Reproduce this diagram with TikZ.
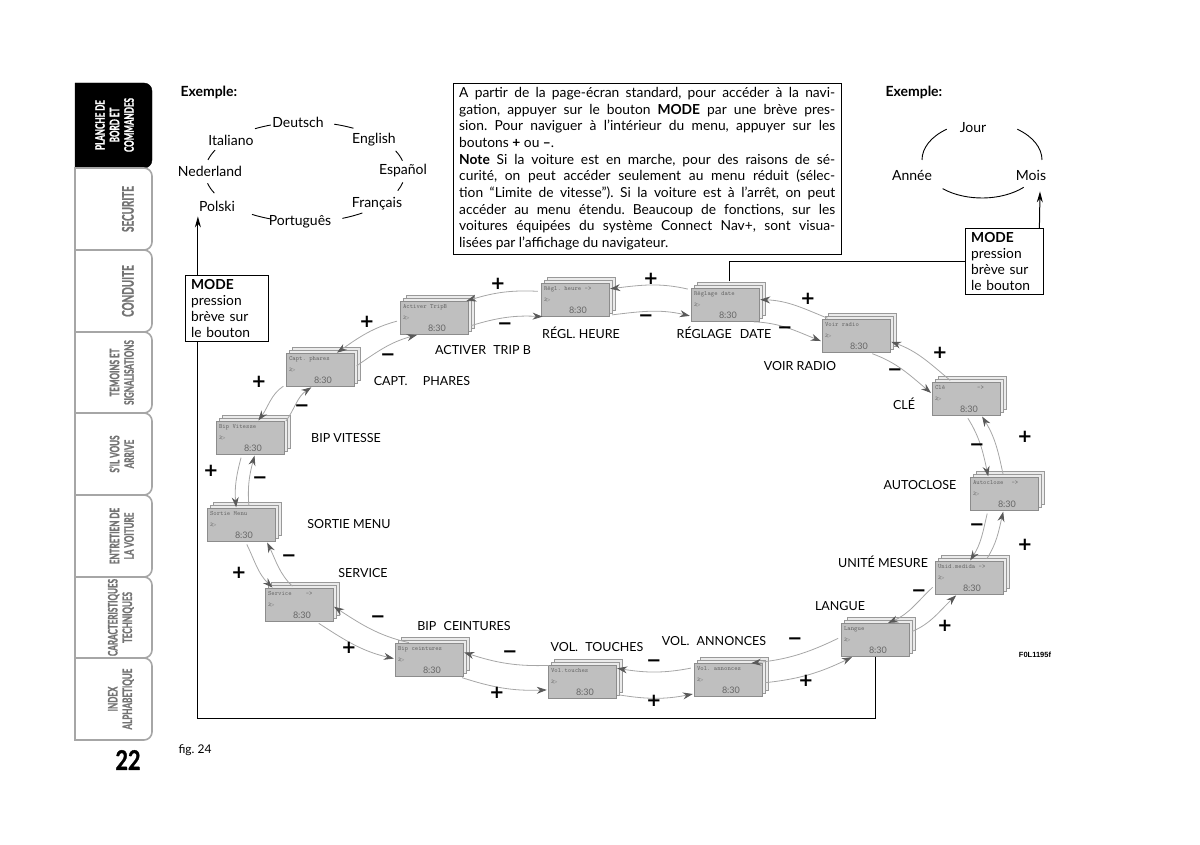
\documentclass[tikz,border=0pt]{standalone}
\usepackage{fontspec}
\setmainfont{Lato}
\newfontfamily\tabfont{Lato}[FakeStretch=0.62, FakeBold=1.2]
\newfontfamily\numfont{Lato}[FakeStretch=0.8, FakeBold=1.2]
\newfontfamily\signfont{DejaVu Sans}
\newfontfamily\symfont{DejaVu Sans}
\newfontfamily\codefont{Liberation Sans}
\usetikzlibrary{
	positioning,
	arrows.meta,
	shadows
}

% contents of one display
\newcommand{\lcd}[1]{{\ttfamily\fontsize{6.4}{7}\selectfont #1}\\[-1pt]{\symfont\fontsize{4.5}{5.5}\selectfont 2▷}\\{\hspace*{25pt}\fontsize{9}{10}\selectfont 8:30}}

\begin{document}
\frenchspacing
\begin{tikzpicture}[
	x=1pt, y=1pt,
	tabline/.style = {draw=black!35, line width=1.6pt},
	tabtext/.style = {
		rotate=90, anchor=south, align=center, inner sep=0pt,
		font=\tabfont\bfseries\fontsize{13}{14.5}\selectfont,
		text=black!55
	},
	screen/.style = {
		rectangle,
		draw=black!45,
		fill=black!25,
		text width=62pt, minimum height=32pt, inner sep=3pt,
		align=left, text=black!60,
		general shadow={shadow xshift=6pt, shadow yshift=6pt, fill=black!8, draw=black!40},
		general shadow={shadow xshift=3pt, shadow yshift=3pt, fill=black!8, draw=black!40}
	},
	link/.style = {
		draw=black!35, line width=0.8pt, shorten <=3pt, shorten >=1pt,
		-{Stealth[length=10pt, width=7pt, color=black!65]}
	},
	menu/.style = {font=\fontsize{12.5}{14}\selectfont, inner sep=1pt},
	sign/.style = {font=\signfont\bfseries\fontsize{18}{20}\selectfont, inner sep=0pt},
	lang/.style = {font=\fontsize{14}{16}\selectfont, inner sep=1pt},
	ring/.style = {line width=0.9pt},
	modebox/.style = {
		draw, fill=white, anchor=north west,
		align=left, inner xsep=6pt, inner ysep=4pt,
		font=\fontsize{13.8}{16}\selectfont
	},
	modeline/.style = {line width=1pt, -{Stealth[length=11pt, width=6pt]}},
]
	\useasboundingbox (0,0) rectangle (1200,-845);

	% chapter tabs
	\draw[fill=black] (75,-83) -- (75,-168) -- (144,-168) arc[start angle=-90, end angle=0, radius=8]
		-- (152,-91) arc[start angle=0, end angle=90, radius=8] -- cycle;
	\node (tab0) [tabtext, text=white] at (134,-125) {PLANCHE DE\\BORD ET\\COMMANDES};
	\foreach \t/\b/\txt [count=\i] in {168/250/{\fontsize{16}{17}\selectfont SECURITE},
		250/332/{\fontsize{16}{17}\selectfont CONDUITE},
		332/413/{TEMOINS ET\\SIGNALISATIONS}, 413/495/{S’IL VOUS\\ARRIVE},
		495/577/{ENTRETIEN DE\\LA VOITURE}, 577/658/{CARACTERISTIQUES\\TECHNIQUES},
		658/740/{INDEX\\ALPHABETIQUE}}{
		\draw[tabline] (75,-\t) -- (75,-\b) -- (144,-\b) arc[start angle=-90, end angle=0, radius=8]
			-- (152,-\t-8) arc[start angle=0, end angle=90, radius=8] -- cycle;
		\node (tab\i) [tabtext] at (134,{-(\t+\b)/2}) {\txt};
	}
	\node (pagenum) at (128,-760) {\numfont\bfseries\fontsize{27}{28}\selectfont 22};
	\node (figno) at (195,-750) {\fontsize{12}{14}\selectfont fig. 24};

	% languages
	\node (exleft) [anchor=west, font=\bfseries\fontsize{14}{16}\selectfont] at (177,-92) {Exemple:};
	\node (deutsch) [lang] at (298,-122) {Deutsch};
	\node (italiano) [lang] at (231,-140) {Italiano};
	\node (english) [lang] at (374,-140) {English};
	\node (nederland) [lang] at (210,-171) {Nederland};
	\node (espanol) [lang] at (403,-171) {Español};
	\node (polski) [lang] at (217,-206) {Polski};
	\node (francais) [lang] at (377,-204) {Français};
	\node (portugues) [lang] at (300,-222) {Português};
	\coordinate (langc) at (305,-172);
	\foreach \s/\e in {110/120, 61/73, 13/25, -22/-12, -68/-55, -122/-110, 193/205, 154/166}
		\draw[ring] (langc) ++(\s:100 and 50) arc[start angle=\s, end angle=\e, x radius=100, y radius=50];

	% date
	\node (exright) [anchor=west, font=\bfseries\fontsize{14}{16}\selectfont] at (882,-92) {Exemple:};
	\node (jour) [lang] at (973,-128) {Jour};
	\node (annee) [lang] at (912,-175) {Année};
	\node (mois) [lang] at (1031,-175) {Mois};
	\coordinate (datec) at (982,-160);
	\foreach \s/\e in {126/180, 54/0, -131/-46}
		\draw[ring] (datec) ++(\s:60 and 38) arc[start angle=\s, end angle=\e, x radius=60, y radius=38];

	% notice
	\node (notice) [draw, anchor=north west, text width=376pt, inner xsep=6pt, inner ysep=4pt,
		align=justify, font=\fontsize{13.8}{16.7}\selectfont] at (453,-83) {%
		A partir de la page-écran standard, pour accéder à la navi-\linebreak
		gation, appuyer sur le bouton \textbf{MODE} par une brève pres-\linebreak
		sion. Pour naviguer à l’intérieur du menu, appuyer sur les\linebreak
		boutons \textbf{+} ou \textbf{–}.\newline
		\textbf{Note} Si la voiture est en marche, pour des raisons de sé-\linebreak
		curité, on peut accéder seulement au menu réduit (sélec-\linebreak
		tion “Limite de vitesse”). Si la voiture est à l’arrêt, on peut\linebreak
		accéder au menu étendu. Beaucoup de fonctions, sur les\linebreak
		voitures équipées du système Connect Nav+, sont visua-\linebreak
		lisées par l’affichage du navigateur.};

	% displays
	\node (date) [screen] at (725,-305) {\lcd{Réglage date}};
	\node (heure) [screen] at (575,-300) {\lcd{Régl. heure ->}};
	\node (tripb) [screen] at (434,-318) {\lcd{Activer TripB}};
	\node (capt) [screen] at (320,-370) {\lcd{Capt. phares}};
	\node (bipv) [screen] at (250,-438) {\lcd{Bip Vitesse}};
	\node (sortie) [screen] at (241,-525) {\lcd{Sortie Menu}};
	\node (service) [screen] at (299,-605) {\lcd{Service\hspace{14pt}->}};
	\node (bipc) [screen] at (429,-660) {\lcd{Bip ceintures}};
	\node (volt) [screen] at (582,-682) {\lcd{Vol.touches}};
	\node (vola) [screen] at (728,-680) {\lcd{Vol. annonces}};
	\node (langue) [screen] at (875,-640) {\lcd{Langue}};
	\node (unid) [screen] at (969,-578) {\lcd{Unid.medida ->}};
	\node (auto) [screen] at (1004,-494) {\lcd{Autoclose\hspace{8pt}->}};
	\node (cle) [screen] at (966,-399) {\lcd{Clé\hspace{32pt}->}};
	\node (voir) [screen] at (856,-336) {\lcd{Voir radio}};

	\foreach \a/\b/\f in {date/heure/177, heure/tripb/187, tripb/capt/205, capt/bipv/224,
		bipv/sortie/265, sortie/service/306, service/bipc/337, bipc/volt/352, volt/vola/1,
		vola/langue/16, langue/unid/33, unid/auto/67, auto/cle/112, cle/voir/150, voir/date/168}{
		\pgfmathtruncatemacro\outa{\f-21}
		\pgfmathtruncatemacro\outb{\f+201}
		\pgfmathtruncatemacro\ina{\f+159}
		\pgfmathtruncatemacro\inb{\f+21}
		\pgfmathtruncatemacro\bendo{\f-10}
		\pgfmathtruncatemacro\bendi{\f+190}
		\draw[link] (\a.\outa) to[out=\bendo, in=\bendi] (\b.\outb);
		\draw[link] (\b.\ina) to[out=\bendi, in=\bendo] (\a.\inb);
	}

	% menu names
	\node (lbldate) [menu] at (724,-333) {RÉGLAGE\hspace{5pt} DATE};
	\node (lblheure) [menu] at (581,-333) {RÉGL. HEURE};
	\node (lbltrip) [menu] at (483,-350) {ACTIVER\hspace{4pt} TRIP B};
	\node (lblcapt) [menu] at (422,-381) {CAPT.\hspace{12pt} PHARES};
	\node (lblbipv) [menu] at (346,-438) {BIP VITESSE};
	\node (lblsortie) [menu] at (349,-524) {SORTIE MENU};
	\node (lblservice) [menu] at (363,-573) {SERVICE};
	\node (lblbipc) [menu] at (464,-626) {BIP\hspace{4pt} CEINTURES};
	\node (lblvolt) [menu] at (597,-647) {VOL.\hspace{4pt} TOUCHES};
	\node (lblvola) [menu] at (714,-641) {VOL.\hspace{4pt} ANNONCES};
	\node (lbllangue) [menu] at (840,-606) {LANGUE};
	\node (lblunid) [menu] at (883,-562) {UNITÉ MESURE};
	\node (lblauto) [menu] at (920,-485) {AUTOCLOSE};
	\node (lblcle) [menu] at (904,-404) {CLÉ};
	\node (lblvoir) [menu] at (800,-366) {VOIR RADIO};

	% + and - keys
	\foreach \x/\y/\s [count=\i] in {651/279/+, 646/318/−, 498/284/+, 505/326/−, 367/322/+, 388/357/−,
		259/382/+, 302/408/−, 211/471/+, 260/480/−, 239/573/+, 289/558/−, 378/619/−, 349/648/+,
		510/654/−, 497/693/+, 654/663/−, 654/701/+, 795/641/−, 806/681/+, 919/593/−, 945/626/+,
		977/527/−, 1025/545/+, 977/447/−, 1025/437/+, 940/353/+, 895/372/−, 808/299/+, 785/330/−}
		\node (key\i) [sign] at (\x,-\y) {\s};

	\node (figcode) at (1035,-655) {\codefont\bfseries\fontsize{7.5}{9}\selectfont F0L1195f};

	% MODE key
	\draw[modeline] (langue.south) -- ++(0,-62) -| ([yshift=-4pt]polski.south west);
	\node (modeL) [modebox, text width=71pt] at (185,-275) {\textbf{MODE}\\pression\\brève sur\\le bouton};
	\node (modeR) [modebox, text width=66pt] at (965,-228) {\textbf{MODE}\\pression\\brève sur\\le bouton};
	\draw[line width=1pt] ([xshift=4pt, yshift=7pt]date.north) |- (modeR.west);
	\draw[modeline] ([xshift=-4pt]modeR.north east) -- ([xshift=9pt, yshift=-10pt]mois.south);
\end{tikzpicture}
\end{document}
